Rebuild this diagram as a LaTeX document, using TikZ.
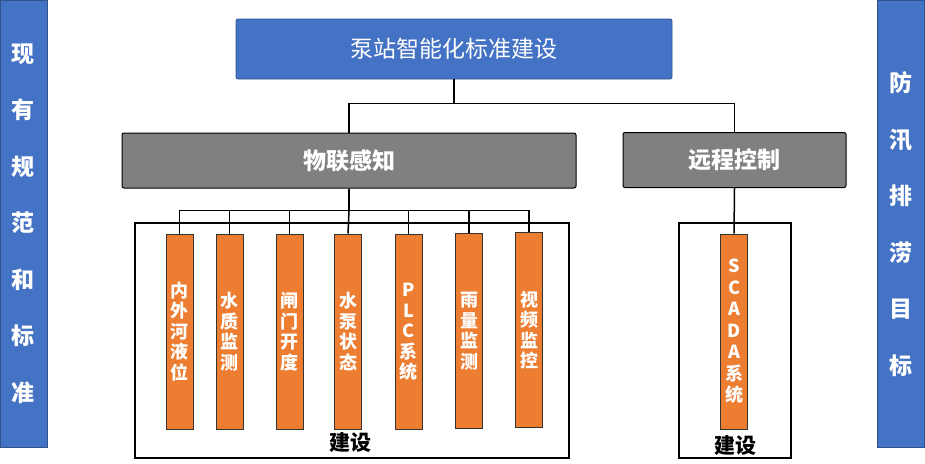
\documentclass[tikz,border=0pt]{standalone}
\usepackage{fontspec}
\setmainfont{Noto Sans CJK SC}
\definecolor{sidefill}{HTML}{4472C4}
\definecolor{sideline}{HTML}{2F528F}
\definecolor{grayfill}{HTML}{808080}
\definecolor{itemfill}{HTML}{ED7D31}

\begin{document}
\begin{tikzpicture}[x=1pt,y=-1pt,line width=1.5pt,
  side/.style={draw=sideline,line width=0.8pt,fill=sidefill,text=white,minimum width=47pt,minimum height=447pt,align=center,font=\bfseries\fontsize{23}{56.5}\selectfont},
  topbox/.style={draw=sideline,line width=0.8pt,fill=sidefill,text=white,rounded corners=2pt,minimum width=436pt,minimum height=60pt,font=\fontsize{23}{27}\selectfont},
  graybox/.style={draw=black,line width=1pt,fill=grayfill,text=white,rounded corners=2pt,minimum height=55pt,font=\bfseries\fontsize{23}{27}\selectfont},
  frame/.style={draw=black,line width=1.5pt,minimum height=235pt,inner sep=0pt},
  item/.style={draw=black!80,line width=0.8pt,fill=itemfill,text=white,minimum width=27pt,minimum height=195pt,inner sep=0pt,align=center,font=\bfseries\fontsize{18}{20.5}\selectfont},
  jianshe/.style={font=\bfseries\fontsize{21}{25}\selectfont}]
\useasboundingbox (0,0) rectangle (925,463);
\node[side] (left) at (23.5,223.5) {现\\有\\规\\范\\和\\标\\准};
\node[side] (right) at (900.5,224) {防\\汛\\排\\涝\\目\\标};
\node[topbox] (top) at (454,49) {泵站智能化标准建设};
\node[graybox,minimum width=454pt] (wl) at (349,160.5) {物联感知};
\node[graybox,minimum width=223pt] (yc) at (734.5,160) {远程控制};
\node[frame,minimum width=434pt] (f1) at (352,340.5) {};
\node[frame,minimum width=112pt] (f2) at (735,340.5) {};
% top level
\draw (top.south) -- ++(0,24) coordinate (j1);
\draw (j1) -| (wl.north);
\draw (j1) -| (yc.north);
% items
\node[item] (o1) at (179.5,331.5) {内\\外\\河\\液\\位};
\node[item] (o2) at (229.5,331.5) {水\\质\\监\\测};
\node[item] (o3) at (289.5,331.5) {闸\\门\\开\\度};
\node[item] (o4) at (348,331.5) {水\\泵\\状\\态};
\node[item] (o5) at (408.5,332) {P\\L\\C\\系\\统};
\node[item] (o6) at (469,331) {雨\\量\\监\\测};
\node[item] (o7) at (529,330) {视\\频\\监\\控};
\node[item,font=\bfseries\fontsize{18}{21.5}\selectfont] (o8) at (734,331.5) {S\\C\\A\\D\\A\\系\\统};
\draw (wl.south) -- ++(0,22) coordinate (j2);
\draw (j2) -| (o1.north);
\draw (j2) -| (o2.north);
\draw (j2) -| (o3.north);
\draw (j2) -- (o4.north);
\draw (j2) -| (o5.north);
\draw (j2) -| (o6.north);
\draw (j2) -| (o7.north);
\draw (yc.south) -- (o8.north);
\node[jianshe] (js1) at (350,443) {建设};
\node[jianshe] (js2) at (735,446) {建设};
\end{tikzpicture}
\end{document}
